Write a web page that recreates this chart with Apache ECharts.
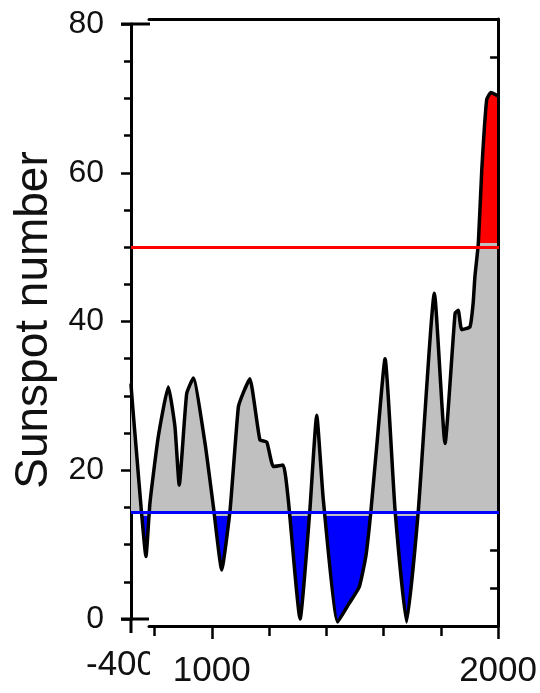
<!DOCTYPE html>
<html><head><meta charset="utf-8">
<script src="https://cdn.jsdelivr.net/npm/echarts@6/dist/echarts.min.js"></script>
<style>html,body{margin:0;padding:0;background:#fff}#c{width:540px;height:693px}</style>
</head><body><div id="c"></div>
<script>
// ---- data ----
const years = [718,725,737,754,770,784,813,848,871,886,912,935,976,1005,1034,1063,1092,1110,1132,1167,1191,1214,1248,1266,1307,1341,1365,1388,1438,1478,1513,1536,1553,1574,1603,1638,1678,1719,1775,1812,1847,1858,1870,1899,1910,1916,1928,1940,1957,1972,1993];
const sunspots = [31.5,28.0,22.5,14.6,8.4,15.6,24.5,31.2,25.9,18.0,30.3,32.4,23.6,15.1,6.6,14.6,28.5,30.5,32.3,24.1,23.8,20.5,20.7,16.0,0.0,14.6,27.4,16.0,-0.4,2.1,4.3,8.4,14.2,23.2,35.0,14.6,-0.4,14.6,43.8,23.6,41.1,41.5,38.9,39.3,42.5,46.0,50.5,60.4,69.8,70.8,70.4];
const lowLevel = 14.4;
const highLevel = 50;
const yLabelValues = [0,20,40,60,80];
const xTickValues = [800,1000,1200,1400,1600,1800,2000];
const xMajorTickValues = [1000,2000];
const xLabelValues = [1000,2000];
const leftCutLabel = '-400';
const yTitle = 'Sunspot number';

const xMin = 718, xMax = 2000;
const frameMin = xMax - (xMax - xMin) * (350 / 368);

const FONT = 'Liberation Sans, Arial, sans-serif';
const chart = echarts.init(document.getElementById('c'), null, {renderer: 'canvas'});

const pts = years.map((y, i) => [y, sunspots[i]]);

chart.setOption({
  animation: false,
  backgroundColor: '#fff',
  grid: [
    {left: 131, right: 41, top: 24, bottom: 74},
    {left: 149, right: 41, top: 19, bottom: 67}
  ],
  xAxis: [
    {type: 'value', gridIndex: 0, min: xMin, max: xMax, show: false},
    {type: 'value', gridIndex: 1, min: frameMin, max: xMax, position: 'bottom',
      axisLine: {show: true, lineStyle: {color: '#000', width: 3}},
      axisTick: {show: true, customValues: xTickValues, length: 10, lineStyle: {color: '#000', width: 2.5}},
      axisLabel: {show: true, customValues: xLabelValues, margin: 28, color: '#111', fontSize: 35, fontFamily: FONT,
        formatter: v => String(v)},
      splitLine: {show: false}},
    {type: 'value', gridIndex: 1, min: frameMin, max: xMax, position: 'bottom',
      axisLine: {show: false},
      axisTick: {show: true, customValues: xMajorTickValues, length: 13, lineStyle: {color: '#000', width: 2.5}},
      axisLabel: {show: false}, splitLine: {show: false}},
    {type: 'value', gridIndex: 1, min: frameMin, max: xMax, position: 'top',
      axisLine: {show: true, lineStyle: {color: '#000', width: 3}},
      axisTick: {show: false}, axisLabel: {show: false}, splitLine: {show: false}}
  ],
  yAxis: [
    {type: 'value', gridIndex: 0, min: 0, max: 80, interval: 20, position: 'left',
      axisLine: {show: true, lineStyle: {color: '#000', width: 3}},
      axisTick: {show: true, length: 10, lineStyle: {color: '#000', width: 2.5}},
      minorTick: {show: true, splitNumber: 4, length: 7, lineStyle: {color: '#000', width: 2.5}},
      axisLabel: {show: true, margin: 27, color: '#111', fontSize: 32, fontFamily: FONT},
      splitLine: {show: false}},
    {type: 'value', gridIndex: 1, min: 0, max: 80, interval: 5, position: 'right',
      axisLine: {show: true, lineStyle: {color: '#000', width: 3}},
      axisTick: {show: true, inside: true, length: 8, lineStyle: {color: '#000', width: 2.5}},
      axisLabel: {show: false}, splitLine: {show: false}}
  ],
  visualMap: {
    type: 'piecewise', show: false, seriesIndex: 0, dimension: 1,
    pieces: [
      {lt: 13.9, color: '#0000ff'},
      {gte: 13.9, lt: 50.6, color: '#c0c0c0'},
      {gte: 50.6, color: '#ff0000'}
    ]
  },
  series: [
    {type: 'line', xAxisIndex: 0, yAxisIndex: 0, data: pts, smooth: 0.15, symbol: 'none', clip: false,
      lineStyle: {width: 0}, areaStyle: {origin: lowLevel, opacity: 1}, z: 2,
      markLine: {silent: true, symbol: 'none', label: {show: false},
        data: [
          {yAxis: lowLevel, lineStyle: {color: '#0000ff', width: 3, type: 'solid'}},
          {yAxis: highLevel, lineStyle: {color: '#ff0000', width: 3, type: 'solid'}}
        ]}},
    {type: 'line', xAxisIndex: 0, yAxisIndex: 0, data: pts, smooth: 0.15, symbol: 'none', clip: false,
      lineStyle: {color: '#000', width: 3.5, join: 'round', cap: 'round'}, z: 4}
  ]
});

const p0 = chart.convertToPixel({gridIndex: 0}, [xMin, 0]);
const p80 = chart.convertToPixel({gridIndex: 0}, [xMin, 80]);
const frameLeft = chart.convertToPixel({xAxisIndex: 1}, frameMin);
const lineStyle = {stroke: '#000', lineWidth: 3};
chart.setOption({
  graphic: [
    {type: 'line', shape: {x1: p0[0], y1: p0[1], x2: p0[0], y2: p0[1] + 14}, style: lineStyle, z: 10},
    {type: 'line', shape: {x1: p0[0] - 10, y1: p0[1], x2: frameLeft, y2: p0[1]}, style: lineStyle, z: 10},
    {type: 'line', shape: {x1: p80[0] - 10, y1: p80[1], x2: frameLeft + 1, y2: p80[1]}, style: lineStyle, z: 10},
    {type: 'text', left: 86, top: 648, z: 10,
      style: {text: leftCutLabel, fontSize: 35, fontFamily: FONT, fill: '#111'}},
    {type: 'rect', shape: {x: frameLeft + 1, y: 644, width: 22, height: 42}, style: {fill: '#fff'}, z: 11},
    {type: 'text', x: 34, y: 320, rotation: Math.PI / 2, z: 10,
      style: {text: yTitle, fontSize: 46, fontFamily: FONT, fill: '#111', align: 'center', verticalAlign: 'middle'}}
  ]
});
</script></body></html>
